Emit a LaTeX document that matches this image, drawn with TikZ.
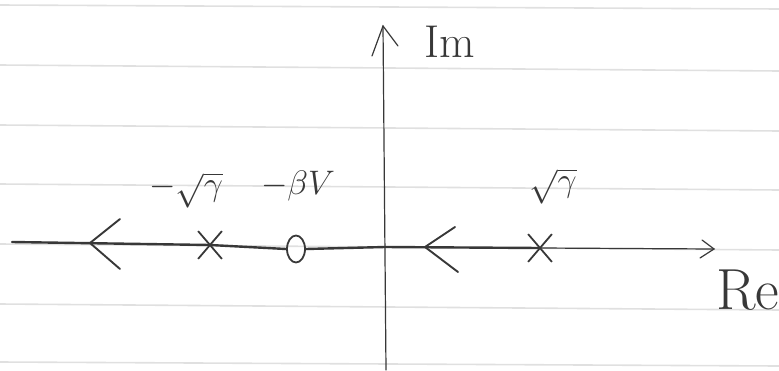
\RequirePackage{fix-cm}
\documentclass[tikz,border=0pt]{standalone}
\usetikzlibrary{shapes.geometric,shapes.misc}
\definecolor{ink}{HTML}{383838}
\definecolor{rule}{HTML}{E0E0E0}
\tikzset{
  ruleline/.style={draw=rule, line width=1.6pt},
  locus/.style={draw=ink, line width=2.4pt, line cap=round},
  axisline/.style={draw=ink, line width=1.2pt, line cap=round},
  pole/.style={cross out, draw=ink, line width=1.8pt, minimum width=22pt, minimum height=26pt, inner sep=0pt},
  zeronode/.style={ellipse, draw=ink, line width=1.8pt, minimum width=18pt, minimum height=27pt, inner sep=0pt},
  lbl/.style={text=ink, font=\fontsize{34}{38}\selectfont, inner sep=0pt},
  chev/.style={draw=ink, line width=1.9pt, line cap=round},
}
\begin{document}
\begin{tikzpicture}[x=1pt,y=-1pt]
\useasboundingbox (0,0) rectangle (779,370);
% ruled paper lines
\draw[ruleline] (0,5) -- (779,9);
\draw[ruleline] (0,65) -- (779,71);
\draw[ruleline] (0,125) -- (779,131);
\draw[ruleline] (0,184) -- (779,190);
\draw[ruleline] (0,244) -- (779,250);
\draw[ruleline] (0,304) -- (779,310);
\draw[ruleline] (0,362) -- (779,366);
% key points
\coordinate (left) at (12,242);
\coordinate (o) at (385,247);
\coordinate (reend) at (714,249);
\coordinate (imtop) at (383,26);
\coordinate (imbot) at (386,370);
\node[pole] (p1) at (210,245) {};
\node[zeronode] (z1) at (296,249) {};
\node[pole] (p2) at (540,248) {};
% imaginary axis
\draw[axisline] (imbot) -- (imtop);
\coordinate (ima) at (372,56);
\coordinate (imb) at (398,46);
\draw[axisline] (ima) -- (imtop) -- (imb);
% real axis locus (thick) and thin continuation
\draw[locus] (left) -- (p1.center) -- (z1.west);
\draw[locus] (z1.east) -- (o) -- (p2.center);
\draw[axisline] (p2.center) -- (reend);
\coordinate (rea) at (702,240);
\coordinate (reb) at (700,258);
\draw[axisline] (rea) -- (reend) -- (reb);
% direction chevrons
\coordinate (c1) at (90,243);
\coordinate (c1a) at (120,219);
\coordinate (c1b) at (120,269);
\draw[chev] (c1a) -- (c1) -- (c1b);
\coordinate (c2) at (425,247);
\coordinate (c2a) at (455,227);
\coordinate (c2b) at (458,272);
\draw[chev] (c2a) -- (c2) -- (c2b);
% labels
\node[lbl] (lp1) at (186,190) {$-\sqrt{\gamma}$};
\node[lbl] (lz1) at (298,186) {$-\beta V$};
\node[lbl] (lp2) at (553,186) {$\sqrt{\gamma}$};
\node[lbl, font=\fontsize{46}{50}\selectfont] (lim) at (450,42) {Im};
\node[lbl, font=\fontsize{58}{62}\selectfont] (lre) at (748,290) {Re};
\end{tikzpicture}
\end{document}
